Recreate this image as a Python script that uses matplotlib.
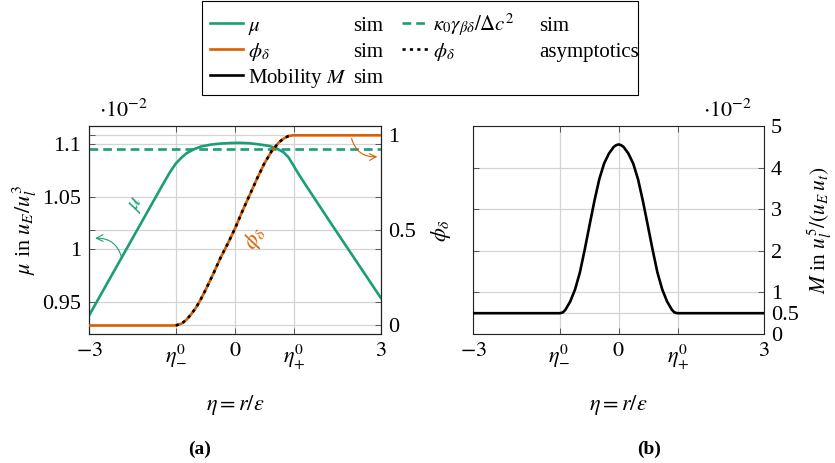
import matplotlib
matplotlib.use('Agg')
import matplotlib.pyplot as plt
from matplotlib.patches import Rectangle
from matplotlib.lines import Line2D

plt.rcParams['font.family'] = ['Liberation Serif', 'DejaVu Serif']
plt.rcParams['mathtext.fontset'] = 'stix'

GREEN = '#1b9e77'
ORANGE = '#d95f02'
GRID = '#d4d4d4'
TICKC = '#555555'

# ---- data ----
eta_ticks = [-3, -1.22, 0, 1.22, 3]
eta_ticklabels = ['$-3$', r'$\eta_{-}^{0}$', '$0$', r'$\eta_{+}^{0}$', '$3$']

# chemical potential mu, in units of 1e-2
eta_mu = [-3.0, -2.5, -2.0, -1.5, -1.35, -1.22, -1.1, -1.0, -0.85, -0.7, -0.5,
          -0.3, -0.1, 0.1, 0.3, 0.5, 0.7, 0.85, 1.0, 1.1, 1.2, 1.3, 1.45,
          1.75, 2.0, 2.5, 3.0]
mu = [0.9375, 0.9785, 1.0195, 1.0605, 1.0725, 1.0815, 1.0872, 1.0912, 1.0950,
      1.0977, 1.0995, 1.1005, 1.1010, 1.1012, 1.1008, 1.0997, 1.0983, 1.0960,
      1.0922, 1.0875, 1.0800, 1.0722, 1.0615, 1.0405, 1.0230, 0.9885, 0.9540]
kappa_gamma = 1.0953
mu_ticks = [0.95, 1.0, 1.05, 1.1]
mu_ticklabels = ['0.95', '1', '1.05', '1.1']

# phase field phi_delta (simulation)
eta_phi = [-3.0, -1.22, -1.1, -1.0, -0.9, -0.8, -0.7, -0.6, -0.45, -0.3, -0.15,
           0.0, 0.15, 0.3, 0.45, 0.6, 0.75, 0.9, 1.0, 1.1, 1.19, 3.0]
phi = [0.0, 0.0, 0.01, 0.03, 0.06, 0.095, 0.14, 0.19, 0.27, 0.355, 0.43,
       0.51, 0.60, 0.685, 0.77, 0.85, 0.915, 0.962, 0.983, 0.996, 1.0, 1.0]
# asymptotic phi_delta (inner region only)
eta_asym = [-1.22, -1.1, -1.0, -0.9, -0.8, -0.7, -0.6, -0.45, -0.3, -0.15,
            0.0, 0.15, 0.3, 0.45, 0.6, 0.75, 0.9, 1.0, 1.1, 1.19]
phi_asym = [0.0, 0.01, 0.03, 0.06, 0.095, 0.14, 0.19, 0.27, 0.355, 0.43,
            0.51, 0.60, 0.685, 0.77, 0.85, 0.915, 0.962, 0.983, 0.996, 1.0]
phi_ticks = [0, 0.5, 1]
phi_ticklabels = ['0', '0.5', '1']

# mobility M, in units of 1e-2
eta_M = [-3.0, -1.21, -1.15, -1.1, -1.0, -0.9, -0.8, -0.7, -0.6, -0.5, -0.4,
         -0.3, -0.2, -0.1, -0.05, 0.0, 0.05, 0.1, 0.2, 0.3, 0.4, 0.5, 0.6,
         0.7, 0.8, 0.9, 1.0, 1.1, 1.15, 1.21, 3.0]
M = [0.5, 0.5, 0.52, 0.58, 0.78, 1.07, 1.48, 2.03, 2.62, 3.2, 3.72,
     4.1, 4.34, 4.5, 4.54, 4.557, 4.54, 4.5, 4.34, 4.1, 3.72, 3.2, 2.62,
     2.03, 1.48, 1.07, 0.78, 0.58, 0.52, 0.5, 0.5]
M_ticks = [0, 0.5, 1, 2, 3, 4, 5]
M_ticklabels = ['0', '0.5', '1', '2', '3', '4', '5']

W, H = 835, 463


def rect(l, t, r, b):
    return [l / W, 1 - b / H, (r - l) / W, (b - t) / H]


def style_axes(ax):
    for s in ax.spines.values():
        s.set_linewidth(0.8)
        s.set_color('#222222')
    ax.tick_params(which='both', direction='in', length=4, width=0.7,
                   color=TICKC, labelsize=16)


fig = plt.figure(figsize=(W / 100, H / 100), dpi=100)

# ---------------- (a) ----------------
ax = fig.add_axes(rect(89.3, 126, 380.7, 334))
ax2 = ax.twinx()
style_axes(ax)
style_axes(ax2)

ax.set_xlim(-3, 3)
ax.set_ylim(0.9195, 1.1172)
ax2.set_ylim(-0.0447, 1.049)

ax.set_axisbelow(True)
ax.grid(True, color=GRID, lw=0.9)
for v in phi_ticks:
    ax.add_line(Line2D([-3, 3], [v, v], transform=ax2.transData,
                       color=GRID, lw=0.9, zorder=0.5))

ax.plot(eta_mu, mu, color=GREEN, lw=1.9, zorder=3)
ax.axhline(kappa_gamma, color=GREEN, lw=1.9, ls=(0, (3.3, 1.9)), zorder=3)
ax2.plot(eta_phi, phi, color=ORANGE, lw=1.9, zorder=3)
ax2.plot(eta_asym, phi_asym, color='black', lw=1.9, ls=(0, (1.2, 1.6)), zorder=4)

ax.set_xticks(eta_ticks)
ax.set_xticklabels(eta_ticklabels)
ax.set_yticks(mu_ticks)
ax.set_yticklabels(mu_ticklabels)
ax.tick_params(axis='x', top=True, pad=6)
ax.tick_params(axis='y', right=True, pad=6)
ax2.set_yticks(phi_ticks)
ax2.set_yticklabels(phi_ticklabels)
ax2.tick_params(axis='y', left=True, pad=5)
ax2.tick_params(axis='x', bottom=False, top=False, labelbottom=False)
ax.set_xlim(-3, 3)
ax.set_ylim(0.9195, 1.1172)

ax.text(0.119, 1.072, r'$\cdot 10^{-2}$', transform=ax.transAxes,
        ha='center', va='center', fontsize=16)
ax.text(-0.2207, 0.5, r'$\mu$ in $u_E/u_l^3$', transform=ax.transAxes,
        rotation=90, ha='center', va='center', fontsize=16)
ax.text(1.207, 0.5, r'$\phi_\delta$', transform=ax.transAxes,
        rotation=90, ha='center', va='center', fontsize=16)
ax.text(0.5, -0.341, r'$\eta = r/\varepsilon$', transform=ax.transAxes,
        ha='center', va='center', fontsize=16)

ax.text(-2.02, 1.043, r'$\mu$', color=GREEN, rotation=60, fontsize=16,
        ha='center', va='center')
ax2.text(0.41, 0.46, r'$\phi_\delta$', color=ORANGE, rotation=62, fontsize=16,
         ha='center', va='center')
ax.annotate('', xy=(-2.88, 1.0105), xytext=(-2.33, 0.9914),
            arrowprops=dict(arrowstyle='->', color=GREEN, lw=0.8,
                            connectionstyle='arc3,rad=0.4',
                            shrinkA=0, shrinkB=0, mutation_scale=12))
ax2.annotate('', xy=(2.93, 0.888), xytext=(2.40, 0.984),
             arrowprops=dict(arrowstyle='->', color=ORANGE, lw=0.8,
                             connectionstyle='arc3,rad=0.4',
                             shrinkA=0, shrinkB=0, mutation_scale=12))

# ---------------- (b) ----------------
bx = fig.add_axes(rect(473.3, 126, 764, 334))
style_axes(bx)
bx.set_axisbelow(True)
bx.grid(True, color=GRID, lw=0.9)
bx.plot(eta_M, M, color='black', lw=1.9, zorder=3)
bx.set_xlim(-3, 3)
bx.set_ylim(0, 5)
bx.set_xticks(eta_ticks)
bx.set_xticklabels(eta_ticklabels)
bx.set_yticks(M_ticks)
bx.set_yticklabels(M_ticklabels)
bx.tick_params(axis='x', top=True, pad=6)
bx.tick_params(axis='y', left=True, right=True, labelleft=False,
               labelright=True, pad=5)
bx.text(0.876, 1.072, r'$\cdot 10^{-2}$', transform=bx.transAxes,
        ha='center', va='center', fontsize=16)
bx.text(1.193, 0.5, r'$M$ in $u_l^5/(u_E\,u_t)$', transform=bx.transAxes,
        rotation=90, ha='center', va='center', fontsize=15.5)
bx.text(0.5, -0.341, r'$\eta = r/\varepsilon$', transform=bx.transAxes,
        ha='center', va='center', fontsize=16)

fig.text(200 / W, 1 - 449 / H, '(a)', fontsize=14, fontweight='bold',
         ha='center', va='center')
fig.text(649 / W, 1 - 449 / H, '(b)', fontsize=14, fontweight='bold',
         ha='center', va='center')

# ---------------- legend ----------------
lax = fig.add_axes([0, 0, 1, 1])
lax.set_xlim(0, W)
lax.set_ylim(H, 0)
lax.axis('off')
lax.add_patch(Rectangle((201.7, 0.7), 436.3, 94.3, fill=False,
                        lw=0.8, ec='black'))

entries = [
    # (col, row, color, linestyle, label, method)
    (0, 0, GREEN, '-', r'$\mu$', 'sim'),
    (0, 1, ORANGE, '-', r'$\phi_\delta$', 'sim'),
    (0, 2, 'black', '-', r'Mobility $M$', 'sim'),
    (1, 0, GREEN, (0, (3.3, 1.9)), r'$\kappa_0\gamma_{\beta\delta}/\Delta c^2$', 'sim'),
    (1, 1, 'black', (0, (1.2, 1.6)), r'$\phi_\delta$', 'asymptotics'),
]
baselines = [30.7, 57.3, 82.7]
cols = [(210, 243.3, 248.3, 352.7), (401.7, 428.3, 433.3, 539.3)]
for col, row, c, ls, lab, meth in entries:
    h0, h1, tx, mx = cols[col]
    yb = baselines[row]
    lax.plot([h0, h1], [yb - 8, yb - 8], color=c, ls=ls, lw=1.9)
    lax.text(tx, yb, lab, fontsize=15, ha='left', va='baseline')
    lax.text(mx, yb, meth, fontsize=15, ha='left', va='baseline')

fig.savefig('out.png', dpi=100)
